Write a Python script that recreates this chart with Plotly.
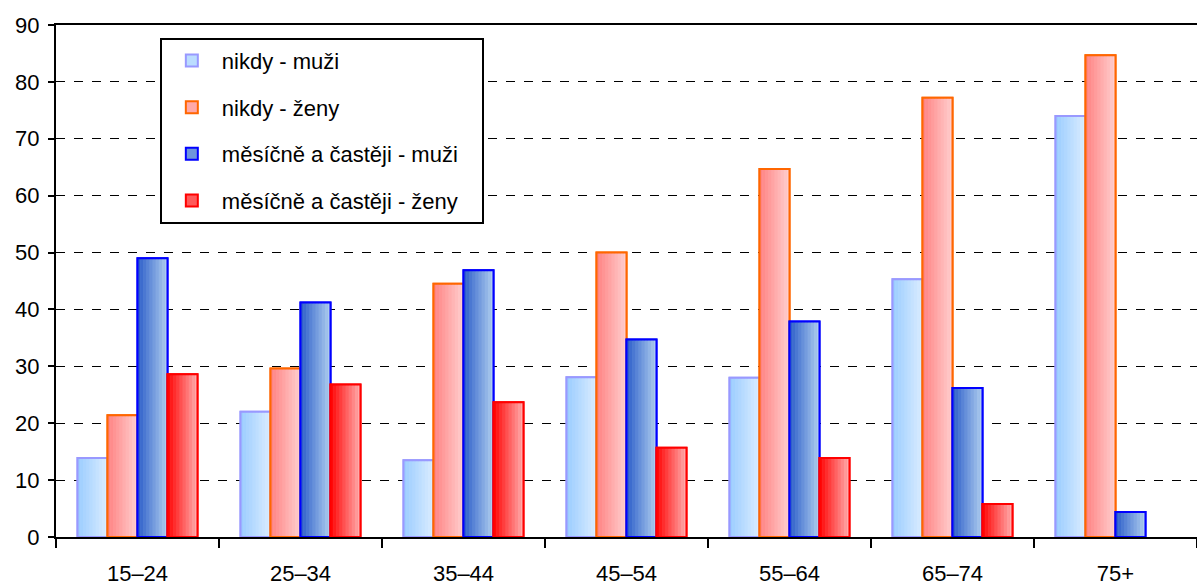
import plotly.graph_objects as go

categories = ["15–24", "25–34", "35–44", "45–54", "55–64", "65–74", "75+"]
series_names = ["nikdy - muži", "nikdy - ženy", "měsíčně a častěji - muži", "měsíčně a častěji - ženy"]
nikdy_muzi = [13.9, 22.0, 13.5, 28.1, 28.0, 45.3, 74.0]
nikdy_zeny = [21.4, 29.6, 44.5, 50.0, 64.7, 77.2, 84.7]
mesicne_muzi = [49.0, 41.2, 46.9, 34.7, 37.9, 26.2, 4.4]
mesicne_zeny = [28.6, 26.8, 23.7, 15.7, 13.9, 5.8, None]
y_ticks = [0, 10, 20, 30, 40, 50, 60, 70, 80, 90]

series_values = [nikdy_muzi, nikdy_zeny, mesicne_muzi, mesicne_zeny]
# (left colour, right colour, border colour)
styles = [
    ((153, 204, 255), (221, 238, 255), "#9999FF"),
    ((255, 128, 128), (255, 210, 210), "#FF6600"),
    ((40, 90, 200), (180, 210, 240), "#0000FF"),
    ((255, 0, 0), (255, 180, 180), "#FF0000"),
]

FONT = "Liberation Sans Narrow, Arial Narrow, Liberation Sans, Arial, sans-serif"
bw = 0.184
N = 10
PAD = "\u00a0" * 3

fig = go.Figure()
for i, (name, vals) in enumerate(zip(series_names, series_values)):
    c0, c1, border = styles[i]
    off0 = (-2 + i) * bw
    mid = tuple(int((a + b) / 2) for a, b in zip(c0, c1))
    # base bar (legend)
    fig.add_trace(go.Bar(
        x=categories, y=vals, name=name + PAD, legendgroup=name,
        width=bw, offset=off0,
        marker=dict(color="rgb(%d,%d,%d)" % mid, line=dict(color=border, width=2)),
    ))
    # gradient slices
    for k in range(N):
        t = (k + 0.5) / N
        col = tuple(int(a + (b - a) * t) for a, b in zip(c0, c1))
        fig.add_trace(go.Bar(
            x=categories, y=vals, legendgroup=name, showlegend=False,
            width=bw / N + 0.001, offset=off0 + k * bw / N,
            marker=dict(color="rgb(%d,%d,%d)" % col, line=dict(width=0)),
            hoverinfo="skip",
        ))
    # outline on top
    fig.add_trace(go.Bar(
        x=categories, y=vals, legendgroup=name, showlegend=False,
        width=bw, offset=off0,
        marker=dict(color="rgba(0,0,0,0)", line=dict(color=border, width=2)),
        hoverinfo="skip",
    ))

fig.update_layout(
    width=1197, height=585,
    margin=dict(l=56, r=0, t=25, b=48, autoexpand=False),
    paper_bgcolor="white", plot_bgcolor="white",
    barmode="overlay",
    font=dict(family=FONT, size=22, color="black"),
    legend=dict(
        x=0.091, y=0.975, xanchor="left", yanchor="top",
        bordercolor="black", borderwidth=2, bgcolor="white",
        font=dict(family=FONT, size=22, color="black"),
        tracegroupgap=15, itemwidth=50,
    ),
    xaxis=dict(
        type="category", showline=True, linecolor="black", linewidth=2,
        mirror=True, ticks="outside", tickson="boundaries", ticklen=9,
        tickwidth=2, tickcolor="black", showgrid=False,
        ticklabelstandoff=16, range=[-0.5, 6.5],
    ),
    yaxis=dict(
        range=[0, 90], tickvals=y_ticks, showline=True, linecolor="black",
        linewidth=2, ticks="outside", ticklen=6, tickwidth=2, tickcolor="black",
        showgrid=True, gridcolor="black", griddash="dash", gridwidth=1,
        zeroline=False, ticklabelstandoff=4,
    ),
)

fig.write_html(
    "out.html",
    config={"displayModeBar": False},
    post_script="document.body.style.margin='0';document.body.style.overflow='hidden';",
)
